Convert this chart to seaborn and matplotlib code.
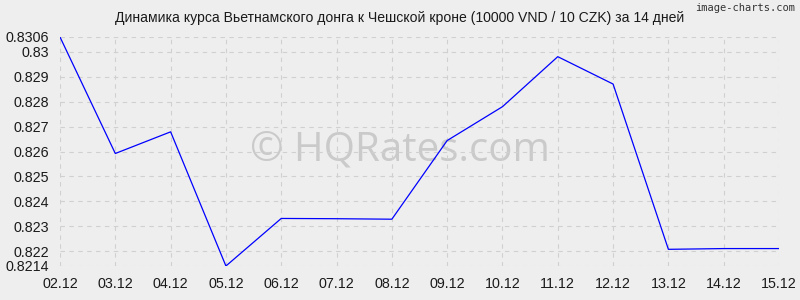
import matplotlib
matplotlib.use("Agg")
import matplotlib.pyplot as plt
import seaborn as sns
import pandas as pd

dates = ["02.12", "03.12", "04.12", "05.12", "06.12", "07.12", "08.12",
         "09.12", "10.12", "11.12", "12.12", "13.12", "14.12", "15.12"]
rates = [0.8306, 0.82592, 0.82679, 0.8214, 0.82331, 0.82330, 0.82328,
         0.82644, 0.8278, 0.82981, 0.82871, 0.82207, 0.82210, 0.82210]
yticks = [0.8214, 0.822, 0.823, 0.824, 0.825, 0.826, 0.827, 0.828, 0.829, 0.83, 0.8306]
ytick_labels = ["0.8214", "0.822", "0.823", "0.824", "0.825", "0.826", "0.827",
                "0.828", "0.829", "0.83", "0.8306"]
title = "Динамика курса Вьетнамского донга к Чешской кроне (10000 VND / 10 CZK) за 14 дней"

sns.set_theme(style="white")
plt.rcParams["font.family"] = ["Liberation Sans", "DejaVu Sans"]

bg = "#eeeeee"
fig = plt.figure(figsize=(8, 3), dpi=100, facecolor=bg)
ax = fig.add_axes([60 / 800, 1 - 266 / 300, 719 / 800, 229 / 300])
ax.set_facecolor(bg)

df = pd.DataFrame({"pos": range(len(dates)), "rate": rates})
sns.lineplot(data=df, x="pos", y="rate", ax=ax, color="#0000ff", linewidth=0.9)

ax.set_xlim(0, len(dates) - 1)
ax.set_ylim(yticks[0], yticks[-1])
ax.set_xticks(range(len(dates)))
ax.set_xticklabels(dates)
ax.set_yticks(yticks)
ax.set_yticklabels(ytick_labels)
ax.set_xlabel("")
ax.set_ylabel("")
ax.tick_params(axis="both", length=0, labelsize=10.3, colors="#1a1a1a")
ax.tick_params(axis="y", pad=8)
ax.tick_params(axis="x", pad=8)
ax.grid(True, color="#d0d0d0", linestyle=(0, (4, 4)), linewidth=0.8)
ax.set_axisbelow(True)
for s in ax.spines.values():
    s.set_visible(False)

fig.text(0.5, 1 - 18 / 300, title, ha="center", va="center", fontsize=10.1, color="#1a1a1a")
fig.text(795 / 800, 1 - 8 / 300, "image-charts.com", ha="right", va="center",
         fontsize=7.5, color="#333333", family=["DejaVu Sans Mono", "DejaVu Sans"])
ax.text(0.5, 0.5, "© HQRates.com", transform=fig.transFigure, ha="center", va="center",
        fontsize=29, color="#cacaca", family=["Open Sans", "DejaVu Sans"], zorder=0)

fig.savefig("out.png", dpi=100, facecolor=bg)
